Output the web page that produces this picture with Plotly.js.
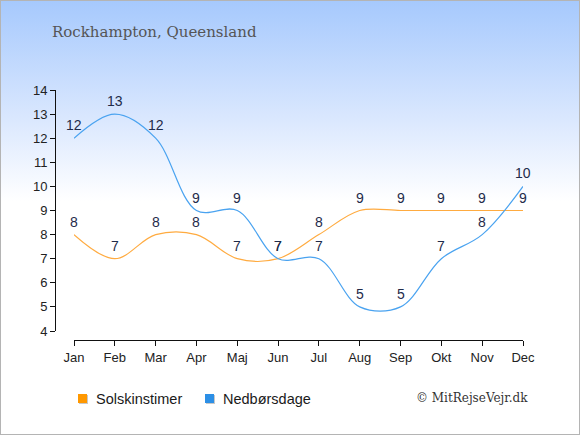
<!DOCTYPE html>
<html>
<head>
<meta charset="utf-8">
<script src="https://cdn.plot.ly/plotly-3.0.1.min.js"></script>
<style>
html,body{margin:0;padding:0;}
#wrap{width:578px;height:433px;border:1px solid #b4b4b4;background:linear-gradient(to bottom,#a6c9fd 0px,#dbe8fe 120px,#ffffff 200px,#ffffff 433px);position:relative;}
#chart{width:578px;height:433px;}
</style>
</head>
<body>
<div id="wrap"><div id="chart"></div></div>
<script>
var months = ["Jan","Feb","Mar","Apr","Maj","Jun","Jul","Aug","Sep","Okt","Nov","Dec"];
var solskinstimer = [8,7,8,8,7,7,8,9,9,9,9,9];
var nedborsdage = [12,13,12,9,9,7,7,5,5,7,8,10];
var yTicks = [4,5,6,7,8,9,10,11,12,13,14];
var seriesNames = ["Solskinstimer","Nedbørsdage"];
var lineColors = ["#ffab40","#4aa3f0"];
var legendColors = ["#ff9800","#2c8fe6"];

var W = 578, H = 433;
var mL = 54, mR = 56, mT = 89, mB = 94;
var pw = W - mL - mR, ph = H - mT - mB;
function px(x){ return (x - 1 - mL) / pw; }
function py(y){ return (H - mB - (y - 1)) / ph; }

var sans = "Liberation Sans, Arial, sans-serif";
var labelFont = {family:sans, size:14, color:"#1f2b4a"};

var traces = [
  {x: months, y: solskinstimer, name: seriesNames[0], mode:"lines",
   line:{color: lineColors[0], width:1.2, shape:"spline", smoothing:1}, showlegend:false, hoverinfo:"none"},
  {x: months, y: nedborsdage, name: seriesNames[1], mode:"lines",
   line:{color: lineColors[1], width:1.2, shape:"spline", smoothing:1}, showlegend:false, hoverinfo:"none"}
];

var xDomStart = px(74);
var yDomStart = py(331);

var shapes = [], annotations = [];
[solskinstimer, nedborsdage].forEach(function(series){
  series.forEach(function(v, j){
    annotations.push({xref:"x", yref:"y", x: months[j], y: v, text: String(v), showarrow:false,
      xanchor:"center", yanchor:"middle", yshift:13, font: labelFont});
  });
});
var legX = [78, 205], legTextX = [94, 221];
for (var i=0;i<2;i++){
  shapes.push({type:"rect", xref:"paper", yref:"paper", x0:px(legX[i]+1), x1:px(legX[i]+10), y0:py(404), y1:py(395), fillcolor:"#c8c8c8", line:{width:0}});
  shapes.push({type:"rect", xref:"paper", yref:"paper", x0:px(legX[i]), x1:px(legX[i]+9), y0:py(403), y1:py(394), fillcolor:legendColors[i], line:{width:0}});
  annotations.push({xref:"paper", yref:"paper", x:px(legTextX[i]), y:py(398.5), xanchor:"left", yanchor:"middle", showarrow:false,
    text: seriesNames[i], font:{family:sans, size:14.5, color:"#1a1a1a"}});
}
annotations.push({xref:"paper", yref:"paper", x:px(530), y:py(398), xanchor:"right", yanchor:"middle", showarrow:false,
  text:"© MitRejseVejr.dk", font:{family:"DejaVu Serif, serif", size:12, color:"#333"}});

var tickFont = {family:sans, size:13, color:"#222"};
var layout = {
  width: W, height: H,
  margin:{l:mL, r:mR, t:mT, b:mB},
  paper_bgcolor:"rgba(0,0,0,0)", plot_bgcolor:"rgba(0,0,0,0)",
  title:{text:"Rockhampton, Queensland", xref:"container", yref:"container", x:51/W, y:1-31/H, xanchor:"left", yanchor:"middle",
    font:{family:"DejaVu Serif, serif", size:15, color:"#555"}},
  xaxis:{type:"category", domain:[xDomStart,1], range:[0,11], anchor:"free", position:0,
    showgrid:false, zeroline:false, showline:true, linecolor:"#111", linewidth:1,
    ticks:"outside", ticklen:5, tickcolor:"#111", tickfont:tickFont},
  yaxis:{domain:[yDomStart,1], range:[4,14], anchor:"free", position:0, tickvals:yTicks,
    showgrid:false, zeroline:false, showline:true, linecolor:"#111", linewidth:1,
    ticks:"outside", ticklen:5, tickcolor:"#111", tickfont:tickFont},
  shapes: shapes, annotations: annotations, showlegend:false
};
Plotly.newPlot("chart", traces, layout, {staticPlot:true, displayModeBar:false});
</script>
</body>
</html>
